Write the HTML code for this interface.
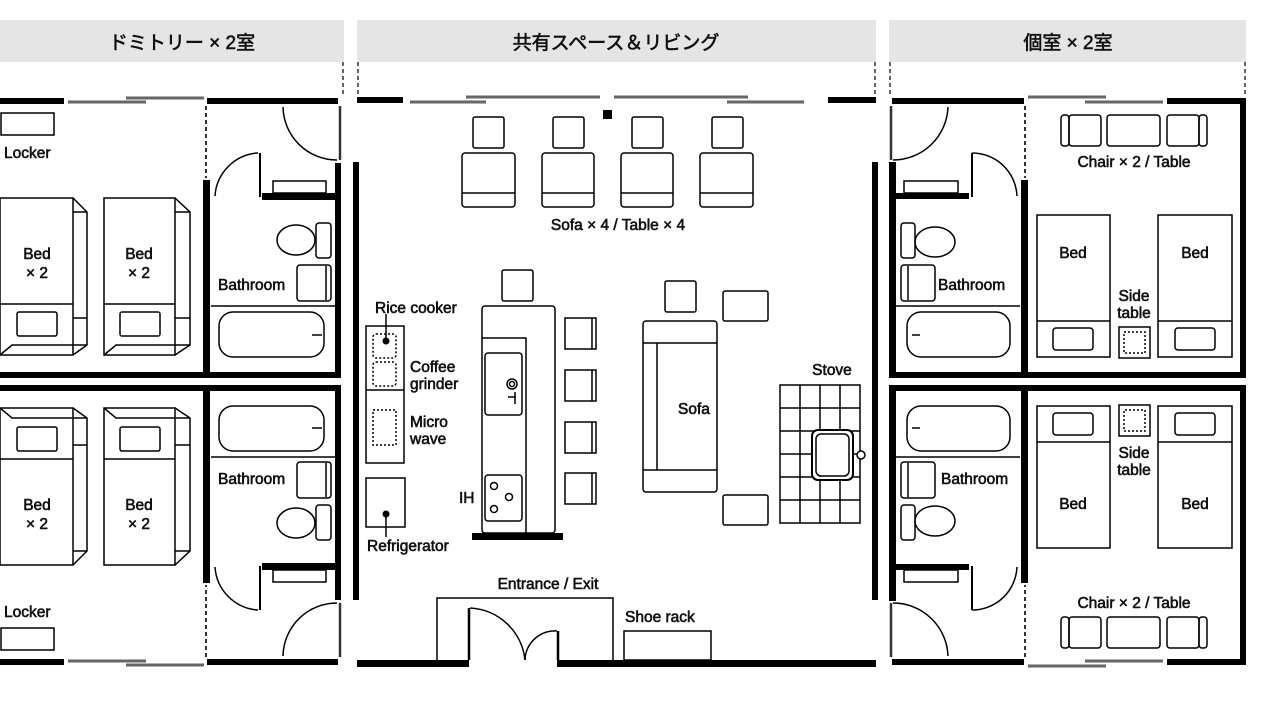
<!DOCTYPE html>
<html><head><meta charset="utf-8"><style>
html,body{margin:0;padding:0;background:#fff;}
svg{display:block;}
text{font-family:"Liberation Sans","Noto Sans CJK JP",sans-serif;fill:#111;}
.l{font-size:15.5px;stroke:#111;stroke-width:0.6;}
.h{font-size:19px;stroke:#111;stroke-width:0.6;}
</style></head><body>
<svg width="1280" height="720" viewBox="0 0 1280 720" xmlns="http://www.w3.org/2000/svg">
<defs>
<g id="dorm">
  <rect x="0" y="98" width="64" height="6" fill="#000"/>
  <rect x="207" y="98" width="131" height="6" fill="#000"/>
  <line x1="68" y1="102" x2="146" y2="102" stroke="#666" stroke-width="3"/>
  <line x1="126" y1="98" x2="204" y2="98" stroke="#666" stroke-width="3"/>
  <line x1="206" y1="106" x2="206" y2="178" stroke="#333" stroke-width="2" stroke-dasharray="4,3"/>
  <rect x="335" y="163" width="6" height="214" fill="#000"/>
  <rect x="203" y="180" width="7" height="195" fill="#000"/>
  <rect x="262" y="193" width="76" height="7" fill="#000"/>
  <line x1="260" y1="153" x2="260" y2="197" stroke="#000" stroke-width="2"/>
  <path d="M215,196 A46,46 0 0 1 258,153" fill="none" stroke="#000" stroke-width="1.5"/>
  <line x1="340" y1="106" x2="340" y2="160" stroke="#333" stroke-width="2.5"/>
  <path d="M283,107 A54,54 0 0 0 337,160" fill="none" stroke="#000" stroke-width="1.5"/>
  <rect x="273" y="181" width="53" height="12" fill="none" stroke="#000" stroke-width="1.5"/>
  <rect x="0" y="372" width="341" height="6" fill="#000"/>
  <rect x="1" y="113" width="53" height="22" fill="none" stroke="#000" stroke-width="1.5"/>
  <g fill="none" stroke="#000" stroke-width="1.5">
    <rect x="0" y="198" width="73" height="157"/>
    <path d="M73,198 L87,212 L87,345 L73,355 M0,355 L12,345 L87,345 M73,212 L87,212 M73,318 L87,318"/>
    <line x1="0" y1="304" x2="73" y2="304"/>
    <rect x="17" y="312" width="40" height="24" rx="2"/>
    <rect x="104" y="198" width="71" height="157"/>
    <path d="M175,198 L190,212 L190,345 L175,355 M104,355 L116,345 L190,345 M175,212 L190,212 M175,318 L190,318"/>
    <line x1="104" y1="304" x2="175" y2="304"/>
    <rect x="120" y="312" width="40" height="24" rx="2"/>
    <ellipse cx="296" cy="240" rx="19" ry="15"/>
    <rect x="316" y="223" width="15" height="35" rx="3"/>
    <rect x="297" y="265" width="34" height="36" rx="3"/>
    <line x1="326" y1="266" x2="326" y2="300"/>
    <line x1="211" y1="306" x2="335" y2="306"/>
    <rect x="219" y="312" width="105" height="45" rx="14"/>
    <line x1="312" y1="335" x2="322" y2="335"/>
  </g>
</g>
<g id="priv">
  <rect x="892" y="98" width="132" height="6" fill="#000"/>
  <rect x="1167" y="98" width="79" height="6" fill="#000"/>
  <line x1="1028" y1="97" x2="1106" y2="97" stroke="#666" stroke-width="3"/>
  <line x1="1085" y1="102" x2="1163" y2="102" stroke="#666" stroke-width="3"/>
  <line x1="1025" y1="106" x2="1025" y2="178" stroke="#333" stroke-width="2" stroke-dasharray="4,3"/>
  <rect x="889" y="162" width="7" height="215" fill="#000"/>
  <rect x="1240" y="98" width="6" height="280" fill="#000"/>
  <rect x="1021" y="180" width="7" height="197" fill="#000"/>
  <rect x="895" y="193" width="74" height="6" fill="#000"/>
  <line x1="972" y1="153" x2="972" y2="197" stroke="#000" stroke-width="2"/>
  <path d="M972,153 A45,45 0 0 1 1017,196" fill="none" stroke="#000" stroke-width="1.5"/>
  <line x1="891" y1="106" x2="891" y2="160" stroke="#333" stroke-width="2.5"/>
  <path d="M948,107 A55,55 0 0 1 893,160" fill="none" stroke="#000" stroke-width="1.5"/>
  <rect x="904" y="181" width="54" height="12" fill="none" stroke="#000" stroke-width="1.5"/>
  <rect x="889" y="372" width="357" height="6" fill="#000"/>
  <g fill="none" stroke="#000" stroke-width="1.5">
    <rect x="1061" y="115" width="8" height="31" rx="3"/>
    <rect x="1069" y="115" width="32" height="31" rx="3"/>
    <rect x="1107" y="115" width="53" height="31" rx="3"/>
    <rect x="1167" y="115" width="32" height="31" rx="3"/>
    <rect x="1199" y="115" width="8" height="31" rx="3"/>
    <rect x="1037" y="215" width="73" height="142"/>
    <line x1="1037" y1="321" x2="1110" y2="321"/>
    <rect x="1053" y="328" width="40" height="22" rx="3"/>
    <rect x="1158" y="215" width="74" height="142"/>
    <line x1="1158" y1="321" x2="1232" y2="321"/>
    <rect x="1175" y="328" width="40" height="22" rx="3"/>
    <rect x="1119" y="327" width="31" height="31"/>
    <rect x="1124" y="332" width="21" height="21" stroke-dasharray="2,2"/>
    <ellipse cx="935" cy="242" rx="20" ry="15"/>
    <rect x="901" y="223" width="14" height="35" rx="3"/>
    <rect x="901" y="265" width="34" height="36" rx="3"/>
    <line x1="908" y1="266" x2="908" y2="300"/>
    <line x1="896" y1="306" x2="1020" y2="306"/>
    <rect x="907" y="312" width="103" height="45" rx="14"/>
    <line x1="912" y1="335" x2="920" y2="335"/>
  </g>
</g>
</defs>

<rect x="0" y="20" width="344" height="42" fill="#e5e5e5"/>
<rect x="357" y="20" width="519" height="42" fill="#e5e5e5"/>
<rect x="889" y="20" width="357" height="42" fill="#e5e5e5"/>
<text class="h" x="182" y="49" text-anchor="middle">ドミトリー × 2室</text>
<text class="h" x="616" y="49" text-anchor="middle">共有スペース＆リビング</text>
<text class="h" x="1068" y="49" text-anchor="middle">個室 × 2室</text>
<g stroke="#333" stroke-width="1.5" stroke-dasharray="4,3">
<line x1="343" y1="62" x2="343" y2="96"/><line x1="358" y1="62" x2="358" y2="96"/>
<line x1="875" y1="62" x2="875" y2="96"/><line x1="890" y1="62" x2="890" y2="96"/>
<line x1="1245" y1="62" x2="1245" y2="96"/>
</g>

<use href="#dorm"/>
<use href="#dorm" transform="translate(0,763) scale(1,-1)"/>
<use href="#priv"/>
<use href="#priv" transform="translate(0,763) scale(1,-1)"/>

<text class="l" x="4" y="158">Locker</text>
<text class="l" x="4" y="617">Locker</text>
<text class="l" x="37" y="259" text-anchor="middle">Bed</text><text class="l" x="37" y="278" text-anchor="middle">× 2</text>
<text class="l" x="139" y="259" text-anchor="middle">Bed</text><text class="l" x="139" y="278" text-anchor="middle">× 2</text>
<text class="l" x="37" y="510" text-anchor="middle">Bed</text><text class="l" x="37" y="529" text-anchor="middle">× 2</text>
<text class="l" x="139" y="510" text-anchor="middle">Bed</text><text class="l" x="139" y="529" text-anchor="middle">× 2</text>
<text class="l" x="218" y="290">Bathroom</text>
<text class="l" x="218" y="484">Bathroom</text>
<text class="l" x="1134" y="167" text-anchor="middle">Chair × 2 / Table</text>
<text class="l" x="1134" y="608" text-anchor="middle">Chair × 2 / Table</text>
<text class="l" x="1073" y="258" text-anchor="middle">Bed</text><text class="l" x="1195" y="258" text-anchor="middle">Bed</text>
<text class="l" x="1073" y="509" text-anchor="middle">Bed</text><text class="l" x="1195" y="509" text-anchor="middle">Bed</text>
<text class="l" x="1134" y="301" text-anchor="middle">Side</text><text class="l" x="1134" y="318" text-anchor="middle">table</text>
<text class="l" x="1134" y="458" text-anchor="middle">Side</text><text class="l" x="1134" y="475" text-anchor="middle">table</text>
<text class="l" x="938" y="290">Bathroom</text>
<text class="l" x="941" y="484">Bathroom</text>

<rect x="357" y="97" width="46" height="6" fill="#000"/>
<rect x="828" y="97" width="48" height="6" fill="#000"/>
<g stroke="#666" stroke-width="3">
<line x1="410" y1="102" x2="486" y2="102"/><line x1="466" y1="97" x2="600" y2="97"/>
<line x1="614" y1="97" x2="748" y2="97"/><line x1="727" y1="102" x2="804" y2="102"/>
</g>
<rect x="603" y="110" width="9" height="9" fill="#000"/>
<rect x="353" y="162" width="6" height="438" fill="#000"/>
<rect x="872" y="162" width="6" height="438" fill="#000"/>
<rect x="357" y="660" width="112" height="7" fill="#000"/>
<rect x="557" y="660" width="319" height="7" fill="#000"/>

<g fill="none" stroke="#000" stroke-width="1.5">
  <rect x="473" y="117" width="31" height="31" rx="2"/><rect x="553" y="117" width="31" height="31" rx="2"/>
  <rect x="632" y="117" width="31" height="31" rx="2"/><rect x="712" y="117" width="31" height="31" rx="2"/>
  <rect x="462" y="153" width="53" height="54" rx="3"/><line x1="462" y1="193" x2="515" y2="193"/>
  <rect x="542" y="153" width="52" height="54" rx="3"/><line x1="542" y1="193" x2="594" y2="193"/>
  <rect x="621" y="153" width="52" height="54" rx="3"/><line x1="621" y1="193" x2="673" y2="193"/>
  <rect x="700" y="153" width="53" height="54" rx="3"/><line x1="700" y1="193" x2="753" y2="193"/>
  <rect x="502" y="270" width="31" height="31" rx="2"/>
  <rect x="482" y="306" width="73" height="227" rx="3"/>
  <path d="M482,338 L526,338 L526,533"/>
  <rect x="485" y="353" width="37" height="62" rx="3"/>
  <circle cx="512" cy="384" r="5"/><circle cx="512" cy="384" r="2.5"/>
  <path d="M508,397 L516,397 M515,392 L515,404"/>
  <rect x="485" y="475" width="37" height="46" rx="3"/>
  <circle cx="494" cy="486" r="3.5"/><circle cx="509" cy="497" r="3.5"/><circle cx="494" cy="509" r="3.5"/>
  <rect x="565" y="318" width="31" height="31"/><line x1="592" y1="318" x2="592" y2="349"/>
  <rect x="565" y="370" width="31" height="31"/><line x1="592" y1="370" x2="592" y2="401"/>
  <rect x="565" y="422" width="31" height="31"/><line x1="592" y1="422" x2="592" y2="453"/>
  <rect x="565" y="473" width="31" height="31"/><line x1="592" y1="473" x2="592" y2="504"/>
  <rect x="366" y="326" width="38" height="137"/><line x1="366" y1="390" x2="404" y2="390"/>
  <rect x="373" y="334" width="23" height="24" rx="3" stroke-dasharray="2,2"/>
  <rect x="373" y="362" width="23" height="24" rx="3" stroke-dasharray="2,2"/>
  <rect x="373" y="410" width="23" height="35" stroke-dasharray="2,2"/>
  <rect x="366" y="478" width="39" height="49"/>
  <line x1="386" y1="314" x2="386" y2="340"/>
  <line x1="386" y1="514" x2="386" y2="537"/>
  <rect x="643" y="321" width="74" height="171" rx="3"/>
  <path d="M643,343 L717,343 M643,470 L717,470 M657,343 L657,470"/>
  <rect x="665" y="281" width="31" height="31" rx="2"/>
  <rect x="723" y="291" width="45" height="30" rx="2"/>
  <rect x="723" y="495" width="45" height="30" rx="2"/>
  <rect x="780" y="385" width="80" height="138"/>
  <path d="M800,385 V523 M820,385 V523 M840,385 V523 M780,408 H860 M780,431 H860 M780,454 H860 M780,477 H860 M780,500 H860"/>
  <rect x="812" y="430" width="41" height="50" rx="6" fill="#fff" stroke-width="2"/>
  <rect x="816" y="434" width="33" height="42" rx="5"/>
  <circle cx="861" cy="455" r="4" fill="#fff"/>
  <path d="M437,660 L437,598 L613,598 L613,660"/>
  <path d="M469,660 V608 M558,660 V631" stroke-width="2.5"/>
  <path d="M470,608 A58,58 0 0 1 525,660"/>
  <path d="M557,631 A30,30 0 0 0 525,660"/>
  <rect x="624" y="631" width="87" height="29"/>
</g>
<rect x="472" y="533" width="91" height="7" fill="#000"/>
<circle cx="386" cy="341" r="3.5" fill="#000"/>
<circle cx="386" cy="514" r="3.5" fill="#000"/>

<text class="l" x="618" y="230" text-anchor="middle">Sofa × 4 / Table × 4</text>
<text class="l" x="375" y="313">Rice cooker</text>
<text class="l" x="410" y="372">Coffee</text><text class="l" x="410" y="389">grinder</text>
<text class="l" x="410" y="427">Micro</text><text class="l" x="410" y="444">wave</text>
<text class="l" x="367" y="551">Refrigerator</text>
<text class="l" x="459" y="503">IH</text>
<text class="l" x="694" y="414" text-anchor="middle">Sofa</text>
<text class="l" x="832" y="375" text-anchor="middle">Stove</text>
<text class="l" x="548" y="589" text-anchor="middle">Entrance / Exit</text>
<text class="l" x="625" y="622">Shoe rack</text>
</svg>
</body></html>
